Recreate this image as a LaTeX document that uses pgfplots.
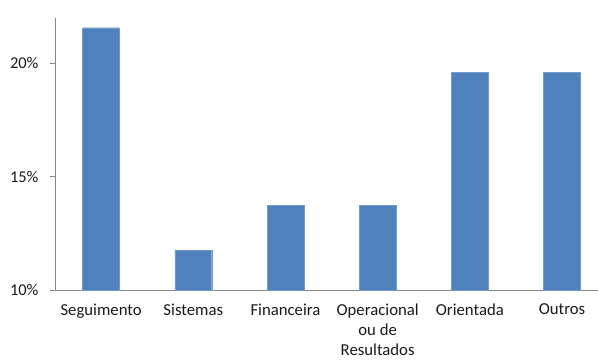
\documentclass[border=0pt]{standalone}
\usepackage{pgfplots}
\pgfplotsset{compat=1.18}
\usepackage{fontspec}
\setmainfont{Carlito}
\definecolor{barblue}{HTML}{4F81BD}
\definecolor{axgray}{HTML}{868686}
\definecolor{txt}{HTML}{1A1A1A}
\begin{document}
\begin{tikzpicture}
\begin{axis}[
  scale only axis,
  width=543bp, height=272bp,
  xmin=-0.5, xmax=5.39,
  ymin=10, ymax=22,
  axis x line*=bottom,
  axis y line*=left,
  axis line style={axgray, line width=0.8pt},
  xtick={0,1,2,3,4,5},
  xticklabels={Seguimento,Sistemas,Financeira,{Operacional\\ou de\\Resultados},Orientada,Outros},
  xticklabel style={align=center, font=\fontsize{16.8}{20.5}\selectfont, text=txt, yshift=-5bp},
  major x tick style={draw=none},
  extra x ticks={-0.5,0.5,1.5,2.5,3.5,4.5},
  extra x tick labels={},
  extra x tick style={tick style={axgray, line width=0.8pt}, major tick length=5bp, tick align=outside},
  ytick={10,15,20},
  yticklabels={10\%,15\%,20\%},
  yticklabel style={font=\fontsize{16.5}{18}\selectfont, text=txt, xshift=-8bp},
  y tick style={axgray, line width=0.8pt},
  major tick length=5bp,
  tick align=outside,
  clip=false,
]
\addplot[ybar, bar width=0.4, fill=barblue, draw=barblue!80!white] coordinates {
 (0,21.57) (1,11.76) (2,13.73) (3,13.73) (4,19.61) (5,19.61)
};
\end{axis}
\pgfresetboundingbox
\useasboundingbox (-55bp,-71bp) rectangle (543bp,290bp);
\end{tikzpicture}
\end{document}
